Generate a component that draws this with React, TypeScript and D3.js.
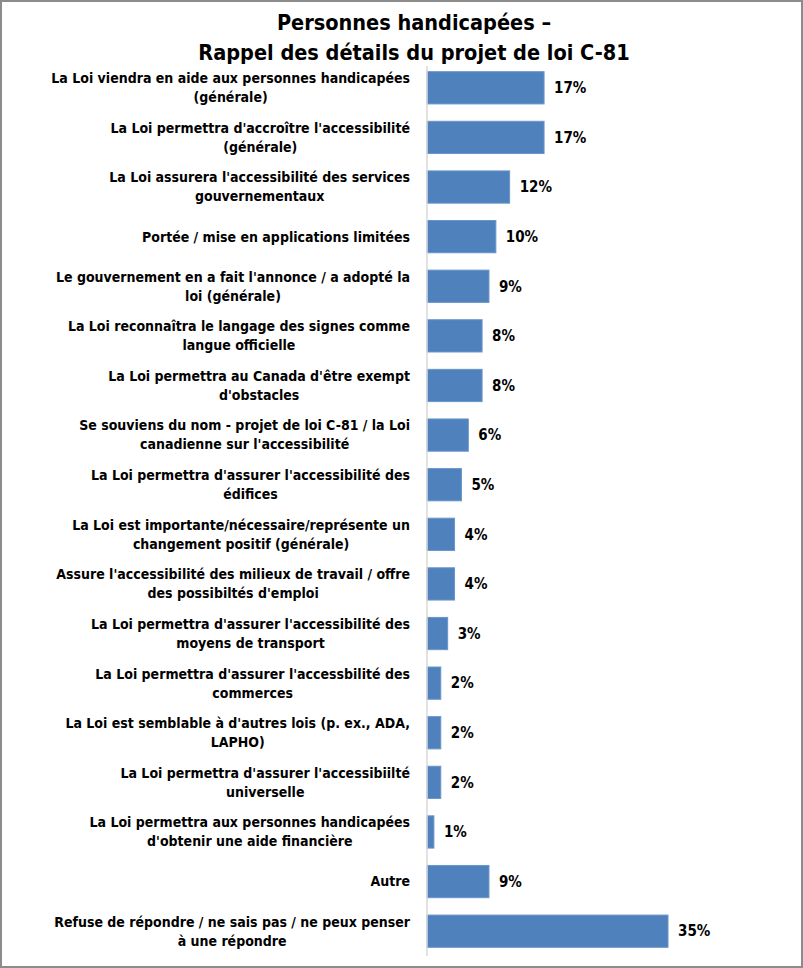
import React, { useEffect, useRef } from 'react';
import * as d3 from 'd3';

const titleLines = ['Personnes handicapées –', 'Rappel des détails du projet de loi C-81'];

const categories = [
  ['La Loi viendra en aide aux personnes handicapées', '(générale)'],
  ["La Loi permettra d'accroître l'accessibilité", '(générale)'],
  ["La Loi assurera l'accessibilité des services", 'gouvernementaux'],
  ['Portée / mise en applications limitées'],
  ["Le gouvernement en a fait l'annonce / a adopté la", 'loi (générale)'],
  ['La Loi reconnaîtra le langage des signes comme', 'langue officielle'],
  ["La Loi permettra au Canada d'être exempt", "d'obstacles"],
  ['Se souviens du nom - projet de loi C-81 / la Loi', "canadienne sur l'accessibilité"],
  ["La Loi permettra d'assurer l'accessibilité des", 'édifices'],
  ['La Loi est importante/nécessaire/représente un', 'changement positif (générale)'],
  ["Assure l'accessibilité des milieux de travail / offre", "des possibiltés d'emploi"],
  ["La Loi permettra d'assurer l'accessibilité des", 'moyens de transport'],
  ["La Loi permettra d'assurer l'accessbilité des", 'commerces'],
  ["La Loi est semblable à d'autres lois (p. ex., ADA,", 'LAPHO)'],
  ["La Loi permettra d'assurer l'accessibiilté", 'universelle'],
  ['La Loi permettra aux personnes handicapées', "d'obtenir une aide financière"],
  ['Autre'],
  ['Refuse de répondre / ne sais pas / ne peux penser', 'à une répondre'],
];

const values = [17, 17, 12, 10, 9, 8, 8, 6, 5, 4, 4, 3, 2, 2, 2, 1, 9, 35];

const FONT = '"Liberation Sans Narrow", "DejaVu Sans Condensed", "Open Sans", sans-serif';

const App = () => {
  const svgRef = useRef<SVGSVGElement>(null);
  const width = 803;
  const height = 968;

  useEffect(() => {
    document.body.style.margin = '0';
    const svg = d3.select(svgRef.current);
    svg.selectAll('*').remove();

    // frame
    svg.append('rect')
      .attr('x', 1).attr('y', 1)
      .attr('width', width - 2).attr('height', height - 2)
      .attr('fill', 'white')
      .attr('stroke', '#8c8c8c')
      .attr('stroke-width', 2);

    // title
    svg.append('g').selectAll('text')
      .data(titleLines)
      .enter().append('text')
      .attr('x', 414)
      .attr('y', (d, i) => 30 + i * 30)
      .attr('text-anchor', 'middle')
      .style('font-family', FONT)
      .style('font-weight', 'bold')
      .style('font-size', '21.5px')
      .style('fill', '#000')
      .text(d => d);

    const x = d3.scaleLinear().domain([0, 35]).range([427, 668]);
    const y = d3.scaleBand<number>()
      .domain(d3.range(values.length))
      .range([63, 956])
      .paddingInner(0.35)
      .paddingOuter(0.175);

    // bars
    svg.append('g').selectAll('rect')
      .data(values)
      .enter().append('rect')
      .attr('x', x(0))
      .attr('y', (d, i) => y(i)!)
      .attr('width', d => x(d) - x(0))
      .attr('height', y.bandwidth())
      .attr('fill', '#4f81bd')
      .attr('stroke', '#6a95c9')
      .attr('stroke-width', 1);

    // axis line
    svg.append('line')
      .attr('x1', x(0)).attr('x2', x(0))
      .attr('y1', 66).attr('y2', 956)
      .attr('stroke', '#d9d9d9')
      .attr('stroke-width', 1.5);

    // value labels
    svg.append('g').selectAll('text')
      .data(values)
      .enter().append('text')
      .attr('x', d => x(d) + 10)
      .attr('y', (d, i) => y(i)! + y.bandwidth() / 2)
      .attr('dy', '0.35em')
      .style('font-family', FONT)
      .style('font-weight', 'bold')
      .style('font-size', '15px')
      .style('fill', '#000')
      .text(d => d + '%');

    // category labels: centred block, right edge at 410
    const labelRight = 410;
    const lineH = 19;
    const lab = svg.append('g');
    categories.forEach((lines, i) => {
      const cy = y(i)! + y.bandwidth() / 2;
      const g = lab.append('g');
      const texts = g.selectAll('text')
        .data(lines)
        .enter().append('text')
        .attr('y', (d, j) => cy + (j - (lines.length - 1) / 2) * lineH)
        .attr('dy', '0.35em')
        .attr('text-anchor', 'middle')
        .style('font-family', FONT)
        .style('font-weight', 'bold')
        .style('font-size', '14px')
        .style('fill', '#000')
        .text(d => d);
      let maxW = 0;
      texts.each(function () {
        maxW = Math.max(maxW, (this as SVGTextElement).getComputedTextLength());
      });
      texts.attr('x', labelRight - maxW / 2);
    });
  }, []);

  return <svg ref={svgRef} width={width} height={height} style={{ display: 'block' }} />;
};

export default App;
